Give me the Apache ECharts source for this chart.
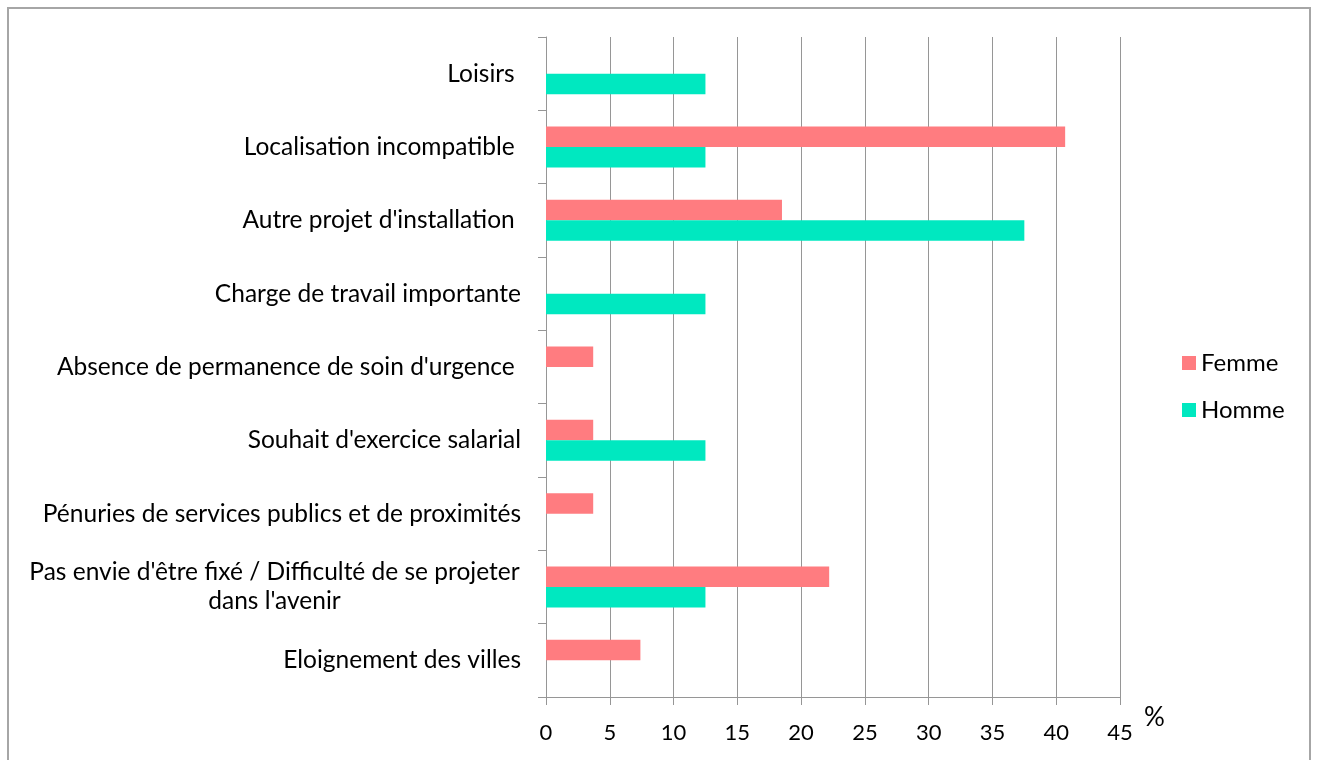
<!DOCTYPE html>
<html lang="fr">
<head>
    <meta charset="UTF-8">
    <title>Raisons - Femme / Homme</title>
    <script src="https://cdn.jsdelivr.net/npm/echarts@6.0.0/dist/echarts.min.js"></script>
    <style>
        html, body { margin: 0; padding: 0; background: #fff; }
    </style>
</head>
<body>
    <div id="main" style="width: 1317px; height: 760px;"></div>

    <script>
        // categories, top to bottom
        var categories = [
            'Loisirs ',
            'Localisation incompatible ',
            "Autre projet d'installation ",
            'Charge de travail importante',
            "Absence de permanence de soin d'urgence ",
            "Souhait d'exercice salarial",
            'Pénuries de services publics et de proximités',
            "Pas envie d'être fixé / Difficulté de se projeter\ndans l'avenir",
            'Eloignement des villes'
        ];

        // values in %
        var femme = [0, 40.7, 18.5, 0, 3.7, 3.7, 3.7, 22.2, 7.4];
        var homme = [12.5, 12.5, 37.5, 12.5, 0, 12.5, 0, 12.5, 0];

        var xTicks = { min: 0, max: 45, interval: 5 };

        var fontName = 'Lato';
        var gray = '#969696';

        var chart = echarts.init(document.getElementById('main'));

        var option = {
            backgroundColor: '#fff',
            animation: false,
            textStyle: { fontFamily: fontName, color: '#000' },
            // outer frame (bottom edge runs off the picture)
            graphic: [{
                type: 'rect',
                shape: { x: 8, y: 8, width: 1302, height: 770 },
                style: { fill: 'none', stroke: '#a6a6a6', lineWidth: 2 },
                silent: true
            }],
            legend: {
                orient: 'vertical',
                left: 1177,
                top: 346,
                itemWidth: 14,
                itemHeight: 14,
                itemGap: 23,
                icon: 'rect',
                textStyle: { fontFamily: fontName, fontSize: 24, color: '#000' },
                data: ['Femme', 'Homme']
            },
            grid: {
                left: 546,
                right: 197,
                top: 37,
                bottom: 63
            },
            xAxis: {
                type: 'value',
                min: xTicks.min,
                max: xTicks.max,
                interval: xTicks.interval,
                name: '%',
                nameLocation: 'end',
                nameGap: 24,
                nameTextStyle: { fontFamily: fontName, fontSize: 26, color: '#000', verticalAlign: 'top', padding: [8, 0, 0, 0] },
                axisLine: { show: true, lineStyle: { color: gray } },
                axisTick: { show: true, length: 8, lineStyle: { color: gray } },
                axisLabel: { fontFamily: fontName, fontSize: 22, color: '#000', margin: 25 },
                splitLine: { show: true, lineStyle: { color: gray, width: 1 } }
            },
            yAxis: {
                type: 'category',
                inverse: true,
                data: categories,
                axisLine: { show: true, lineStyle: { color: gray } },
                axisTick: { show: true, length: 8, alignWithLabel: false, lineStyle: { color: gray } },
                axisLabel: {
                    fontFamily: fontName,
                    fontSize: 24.5,
                    color: '#000',
                    margin: 25,
                    lineHeight: 29,
                    formatter: function (val) {
                        if (val.indexOf('\n') >= 0) {
                            return val.split('\n').map(function (s) { return '{c|' + s + '}'; }).join('\n');
                        }
                        return val;
                    },
                    rich: {
                        c: { width: 493, align: 'center', fontFamily: fontName, fontSize: 24.5, lineHeight: 29, color: '#000' }
                    }
                },
                splitLine: { show: false }
            },
            series: [
                {
                    name: 'Femme',
                    type: 'bar',
                    data: femme,
                    barWidth: 20.5,
                    barGap: '0%',
                    itemStyle: { color: '#ff7c80' }
                },
                {
                    name: 'Homme',
                    type: 'bar',
                    data: homme,
                    barWidth: 20.5,
                    barGap: '0%',
                    itemStyle: { color: '#00e8c0' }
                }
            ]
        };

        chart.setOption(option);
    </script>
</body>
</html>
